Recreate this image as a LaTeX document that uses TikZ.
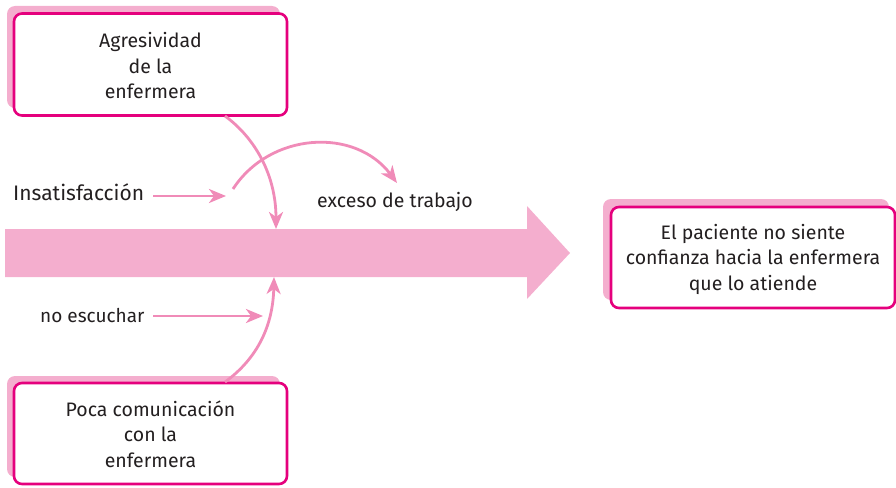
\documentclass[tikz,border=0pt]{standalone}
\usepackage{fontspec}
\IfFontExistsTF{Fira Sans Book}{\setmainfont{Fira Sans Book}}{\setmainfont{Fira Sans}}
\usetikzlibrary{arrows.meta}
\definecolor{magentaB}{HTML}{E5007D}
\definecolor{lightpink}{HTML}{F4AECE}
\definecolor{midpink}{HTML}{F08BB8}
\definecolor{txt}{HTML}{231F20}
\tikzset{
  box/.style={draw=magentaB, line width=2.6pt, rounded corners=8pt, fill=white, inner sep=0pt},
  boxtxt/.style={align=center, text=txt, font=\fontsize{19.5}{25.5}\selectfont, inner sep=0pt},
  shadowbox/.style={fill=lightpink, rounded corners=8pt},
  conn/.style={draw=midpink, line width=2.8pt, -{Stealth[length=17pt,width=14pt,inset=5pt]}},
  lbl/.style={text=txt, inner sep=0pt, anchor=west},
}
\begin{document}
\begin{tikzpicture}[x=1pt,y=-1pt]
\useasboundingbox (0,0) rectangle (896,487);
% shadows
\fill[shadowbox] (7,6) rectangle (280,108);
\fill[shadowbox] (7,376) rectangle (280,477);
\fill[shadowbox] (603,199) rectangle (889,300);
% main arrow
\fill[lightpink] (5,229) -- (527,229) -- (527,206) -- (570,253) -- (527,299) -- (527,277) -- (5,277) -- cycle;
% boxes
\node[box, minimum width=273pt, minimum height=102pt] (top) at (150.5,64.5) {};
\node[box, minimum width=273pt, minimum height=101pt] (bot) at (150.5,433.5) {};
\node[box, minimum width=284pt, minimum height=101pt] (eff) at (753,257.5) {};
\node[boxtxt] (topt) at ([yshift=-1.5pt]top.center) {Agresividad\\de la \\enfermera};
\node[boxtxt] (bott) at ([yshift=-0.5pt]bot.center) {Poca comunicación\\con la \\enfermera};
\node[boxtxt] (efft) at ([yshift=-1.5pt]eff.center) {El paciente no siente\\confianza hacia la enfermera\\que lo atiende};
% labels
\node[lbl, font=\fontsize{21}{24}\selectfont] (ins) at (13,192) {Insatisfacción};
\node[lbl, font=\fontsize{19.5}{22}\selectfont] (exc) at (317,202) {exceso de trabajo};
\node[lbl, font=\fontsize{19}{22}\selectfont] (esc) at (40,316) {no escuchar};
% connector coordinates
\coordinate (insS) at (153,196);
\coordinate (insE) at (226,196);
\coordinate (escS) at (153,316);
\coordinate (escE) at (263,316);
\coordinate (topS) at (225,116);
\coordinate (shaftT) at (276,229);
\coordinate (botN) at (225,382);
\coordinate (shaftB) at (274,277);
\coordinate (arcS) at (233,189);
\coordinate (arcE) at (397,183);
% connectors
\draw[conn] (insS) -- (insE);
\draw[conn] (escS) -- (escE);
\draw[conn] (topS) .. controls (255,138) and (276,175) .. (shaftT);
\draw[conn] (botN) .. controls (258,358) and (273,325) .. (shaftB);
\draw[conn] (arcS) .. controls (270,132) and (355,127) .. (arcE);
\end{tikzpicture}
\end{document}
